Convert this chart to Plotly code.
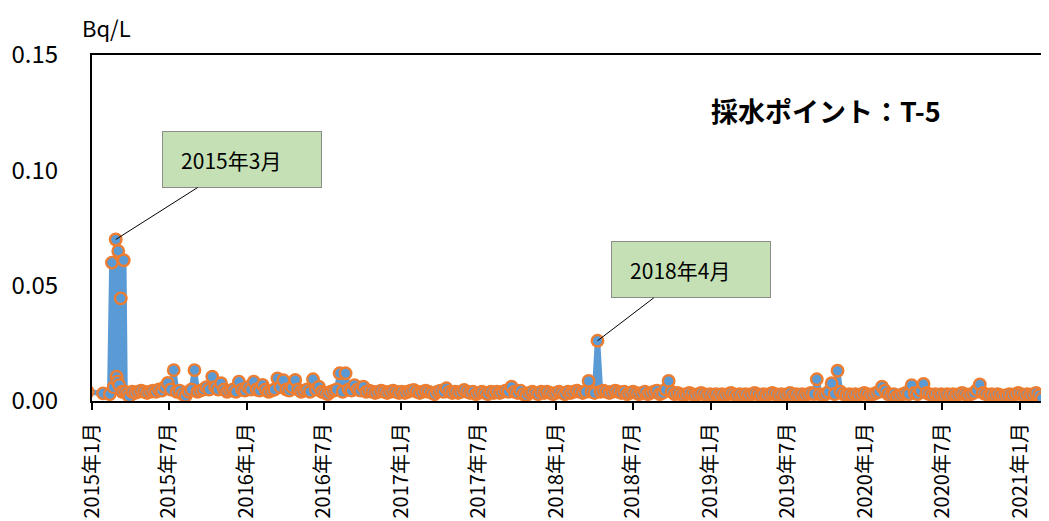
import plotly.graph_objects as go

# ---------------- data ----------------
# pre-2015 point (clipped by axis range, only its line segment shows)
d2014 = ["12-22"]
v2014 = [0.004]

d2015 = ["01-27", "02-12", "02-17", "02-21", "02-26", "02-28", "03-02", "03-04", "03-06", "03-10",
         "03-13", "03-17", "03-20", "03-25", "03-30", "04-06", "04-13", "04-20", "04-27", "05-04",
         "05-11", "05-18", "05-25", "06-01", "06-08", "06-15", "06-22", "06-29", "07-06", "07-13",
         "07-20", "07-27", "08-03", "08-10", "08-17", "08-24", "08-31", "09-07", "09-14", "09-21",
         "09-28", "10-05", "10-12", "10-19", "10-26", "11-02", "11-09", "11-16", "11-23", "11-30",
         "12-07", "12-14", "12-21", "12-28"]
v2015 = [0.0033, 0.0030, 0.060, 0.006, 0.070, 0.0105, 0.0084, 0.065, 0.0069, 0.0445,
         0.004, 0.061, 0.004, 0.003, 0.002, 0.004, 0.0035, 0.004, 0.0045, 0.004,
         0.0035, 0.004, 0.0045, 0.004, 0.005, 0.0045, 0.006, 0.0078, 0.005, 0.0134,
         0.004, 0.0045, 0.003, 0.0022, 0.004, 0.005, 0.0134, 0.004, 0.0045, 0.005,
         0.006, 0.005, 0.0105, 0.006, 0.005, 0.0077, 0.005, 0.004, 0.0045, 0.005,
         0.004, 0.0084, 0.005, 0.0045]

d2016 = ["01-04", "01-11", "01-18", "01-25", "02-01", "02-08", "02-15", "02-22", "02-29", "03-07",
         "03-14", "03-21", "03-28", "04-04", "04-11", "04-18", "04-25", "05-02", "05-09", "05-16",
         "05-23", "05-30", "06-06", "06-13", "06-20", "06-27", "07-04", "07-11", "07-18", "07-25",
         "08-01", "08-08", "08-15", "08-22", "08-29", "09-05", "09-12", "09-19", "09-26", "10-03",
         "10-10", "10-17", "10-24", "10-31", "11-07", "11-14", "11-21", "11-28", "12-05", "12-12",
         "12-19", "12-26"]
v2016 = [0.006, 0.005, 0.0084, 0.005, 0.0045, 0.007, 0.005, 0.004, 0.0045, 0.005,
         0.0098, 0.006, 0.0090, 0.005, 0.0045, 0.006, 0.0091, 0.005, 0.004, 0.0045,
         0.005, 0.004, 0.0094, 0.005, 0.0062, 0.004, 0.0035, 0.003, 0.004, 0.0045,
         0.005, 0.012, 0.004, 0.012, 0.005, 0.0045, 0.0069, 0.005, 0.0045, 0.0062,
         0.004, 0.0045, 0.004, 0.0035, 0.004, 0.0045, 0.004, 0.0035, 0.004, 0.0045,
         0.004, 0.0035]

d2017 = ["01-02", "01-09", "01-16", "01-23", "01-30", "02-06", "02-13", "02-20", "02-27", "03-06",
         "03-13", "03-20", "03-27", "04-03", "04-10", "04-17", "04-24", "05-01", "05-08", "05-15",
         "05-22", "05-29", "06-05", "06-12", "06-19", "06-26", "07-03", "07-10", "07-17", "07-24",
         "07-31", "08-07", "08-14", "08-21", "08-28", "09-04", "09-11", "09-18", "09-25", "10-02",
         "10-09", "10-16", "10-23", "10-30", "11-06", "11-13", "11-20", "11-27", "12-04", "12-11",
         "12-18", "12-25"]
v2017 = [0.004, 0.0035, 0.004, 0.0045, 0.0048, 0.004, 0.0035, 0.004, 0.0045, 0.004,
         0.0035, 0.003, 0.004, 0.0045, 0.004, 0.0055, 0.004, 0.0035, 0.004, 0.0035,
         0.004, 0.0048, 0.004, 0.0035, 0.004, 0.003, 0.0035, 0.004, 0.0035, 0.003,
         0.004, 0.0035, 0.004, 0.0035, 0.004, 0.0045, 0.004, 0.0062, 0.004, 0.0035,
         0.0045, 0.003, 0.0025, 0.0035, 0.004, 0.0035, 0.003, 0.004, 0.0035, 0.004,
         0.0035, 0.003]

d2018 = ["01-01", "01-08", "01-15", "01-22", "01-29", "02-05", "02-12", "02-19", "02-26", "03-05",
         "03-12", "03-19", "03-26", "04-02", "04-09", "04-16", "04-23", "04-30", "05-07", "05-14",
         "05-21", "05-28", "06-04", "06-11", "06-18", "06-25", "07-02", "07-09", "07-16", "07-23",
         "07-30", "08-06", "08-13", "08-20", "08-27", "09-03", "09-10", "09-17", "09-24", "10-01",
         "10-08", "10-15", "10-22", "10-29", "11-05", "11-12", "11-19", "11-26", "12-03", "12-10",
         "12-17", "12-24", "12-31"]
v2018 = [0.0035, 0.004, 0.0035, 0.003, 0.004, 0.0035, 0.004, 0.0045, 0.004, 0.0035,
         0.004, 0.0087, 0.004, 0.0035, 0.0261, 0.004, 0.0045, 0.004, 0.0035, 0.004,
         0.0045, 0.004, 0.0035, 0.004, 0.003, 0.0035, 0.004, 0.0035, 0.003, 0.0035,
         0.004, 0.003, 0.0035, 0.004, 0.0045, 0.003, 0.0035, 0.005, 0.0087, 0.004,
         0.003, 0.0035, 0.003, 0.0025, 0.003, 0.0035, 0.003, 0.0025, 0.003, 0.0035,
         0.003, 0.0025, 0.003]

d2019 = ["01-07", "01-14", "01-21", "01-28", "02-04", "02-11", "02-18", "02-25", "03-04", "03-11",
         "03-18", "03-25", "04-01", "04-08", "04-15", "04-22", "04-29", "05-06", "05-13", "05-20",
         "05-27", "06-03", "06-10", "06-17", "06-24", "07-01", "07-08", "07-15", "07-22", "07-29",
         "08-05", "08-12", "08-19", "08-26", "09-02", "09-09", "09-16", "09-23", "09-30", "10-07",
         "10-14", "10-21", "10-28", "11-04", "11-11", "11-18", "11-25", "12-02", "12-09", "12-16",
         "12-23", "12-30"]
v2019 = [0.0025, 0.003, 0.0025, 0.003, 0.0025, 0.003, 0.0035, 0.003, 0.0025, 0.003,
         0.0025, 0.003, 0.0025, 0.003, 0.0035, 0.003, 0.0025, 0.003, 0.0025, 0.003,
         0.0035, 0.003, 0.0025, 0.003, 0.0025, 0.003, 0.0035, 0.0025, 0.003, 0.0025,
         0.003, 0.0025, 0.003, 0.0035, 0.003, 0.0094, 0.003, 0.0025, 0.003, 0.004,
         0.0077, 0.003, 0.0131, 0.004, 0.003, 0.0025, 0.003, 0.0025, 0.003, 0.0025,
         0.003, 0.0035]

d2020 = ["01-06", "01-13", "01-20", "01-27", "02-03", "02-10", "02-17", "02-24", "03-02", "03-09",
         "03-16", "03-23", "03-30", "04-06", "04-13", "04-20", "04-27", "05-04", "05-11", "05-18",
         "05-25", "06-01", "06-08", "06-15", "06-22", "06-29", "07-06", "07-13", "07-20", "07-27",
         "08-03", "08-10", "08-17", "08-24", "08-31", "09-07", "09-14", "09-21", "09-28", "10-05",
         "10-12", "10-19", "10-26", "11-02", "11-09", "11-16", "11-23", "11-30", "12-07", "12-14",
         "12-21", "12-28"]
v2020 = [0.003, 0.0025, 0.003, 0.0035, 0.004, 0.0062, 0.0045, 0.003, 0.0025, 0.003,
         0.002, 0.0025, 0.003, 0.0035, 0.003, 0.0069, 0.0035, 0.003, 0.0045, 0.0074,
         0.0035, 0.003, 0.0025, 0.003, 0.0025, 0.003, 0.0025, 0.003, 0.0025, 0.003,
         0.0025, 0.003, 0.0035, 0.003, 0.0025, 0.003, 0.0035, 0.0048, 0.0072, 0.0035,
         0.003, 0.0025, 0.003, 0.0025, 0.003, 0.0025, 0.002, 0.0025, 0.003, 0.0025,
         0.003, 0.0035]

d2021 = ["01-04", "01-11", "01-18", "01-25", "02-01", "02-08", "02-15", "02-22", "03-08"]
v2021 = [0.003, 0.0025, 0.003, 0.0025, 0.003, 0.0035, 0.0025, 0.0012, 0.002]

tick_dates = ["2015-01-01", "2015-07-01", "2016-01-01", "2016-07-01", "2017-01-01", "2017-07-01",
              "2018-01-01", "2018-07-01", "2019-01-01", "2019-07-01", "2020-01-01", "2020-07-01",
              "2021-01-01"]
tick_labels = ["2015年1月", "2015年7月", "2016年1月", "2016年7月", "2017年1月", "2017年7月",
               "2018年1月", "2018年7月", "2019年1月", "2019年7月", "2020年1月", "2020年7月",
               "2021年1月"]
y_ticks = [0.0, 0.05, 0.10, 0.15]

callouts = [("2015年3月", "2015-02-26", 0.070), ("2018年4月", "2018-04-09", 0.0261)]

# ---------------- build series ----------------
dates, values = [], []
for yr, dl, vl in [(2014, d2014, v2014), (2015, d2015, v2015), (2016, d2016, v2016),
                   (2017, d2017, v2017), (2018, d2018, v2018), (2019, d2019, v2019),
                   (2020, d2020, v2020), (2021, d2021, v2021)]:
    dates += [f"{yr}-{d}" for d in dl]
    values += vl

FONT = "Noto Sans CJK JP"
BLUE = "#5B9BD5"
ORANGE = "#ED7D31"

fig = go.Figure()
fig.add_trace(go.Scatter(
    x=dates, y=values, mode="lines+markers",
    line=dict(color=BLUE, width=5.5, simplify=False),
    marker=dict(size=11.5, color=BLUE, line=dict(color=ORANGE, width=2.4)),
    cliponaxis=True, showlegend=False,
))

# the page body has an 8 px default margin, so the figure is 8 px smaller
fig.update_layout(
    width=1041, height=513,
    margin=dict(l=84, r=4, t=47, b=120),
    paper_bgcolor="white", plot_bgcolor="white",
    font=dict(family=FONT, color="black"),
    xaxis=dict(
        type="date", range=["2015-01-01", "2021-03-01"],
        tickvals=tick_dates, ticktext=tick_labels, tickangle=-90,
        tickfont=dict(size=20, family=FONT),
        ticks="outside", ticklen=7, tickwidth=1.5, tickcolor="black",
        showline=True, linecolor="black", linewidth=2, mirror=True,
        showgrid=False, zeroline=False, layer="below traces",
        ticklabelstandoff=5, automargin=False,
    ),
    yaxis=dict(
        range=[0, 0.15], tickvals=y_ticks, tickformat=".2f",
        tickfont=dict(size=24, family=FONT),
        showline=True, linecolor="black", linewidth=2,
        showgrid=False, zeroline=False, ticks="", layer="below traces",
        ticklabelstandoff=27, automargin=False,
    ),
)

offsets = [(126, -80), (93, -71)]
for (label, dt, val), (ax, ay) in zip(callouts, offsets):
    fig.add_annotation(
        x=dt, y=val, xref="x", yref="y",
        text="&nbsp;&nbsp;&nbsp;" + label,
        showarrow=True, arrowhead=0, arrowwidth=1, arrowcolor="black",
        ax=ax, ay=ay, axref="pixel", ayref="pixel", standoff=0,
        width=150, height=47, align="left", valign="middle",
        bgcolor="#C5E0B4", bordercolor="#8C8C8C", borderwidth=1, borderpad=4,
        font=dict(size=21, family=FONT, color="black"),
    )

fig.add_annotation(
    text="<b>採水ポイント：T-5</b>", xref="paper", yref="paper",
    x=0.770, y=0.841, showarrow=False, xanchor="center", yanchor="middle",
    font=dict(size=27, family=FONT, color="black"),
)
fig.add_annotation(
    text="Bq/L", xref="paper", yref="paper",
    x=-0.013, y=1.081, showarrow=False, xanchor="left", yanchor="middle",
    font=dict(size=22, family=FONT, color="black"),
)

fig.write_html("out.html")
